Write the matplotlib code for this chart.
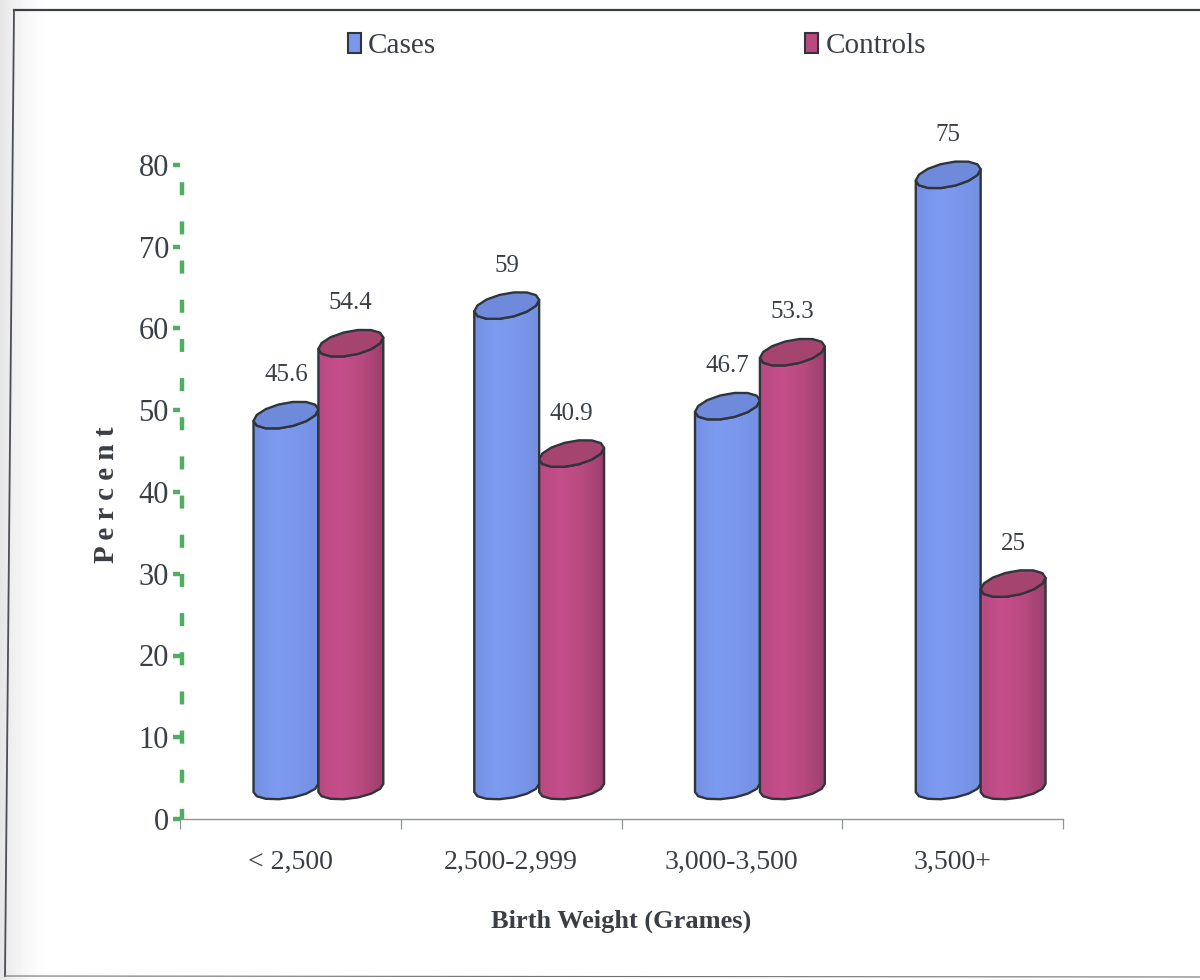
import numpy as np
import matplotlib
matplotlib.use("Agg")
import matplotlib.pyplot as plt
from matplotlib.colors import LinearSegmentedColormap
from matplotlib.patches import Patch, Polygon

plt.rcParams['font.family'] = ['Liberation Serif', 'DejaVu Serif']
plt.rcParams['lines.scale_dashes'] = False

# data
categories = ["< 2,500", "2,500-2,999", "3,000-3,500", "3,500+"]
cases = [45.6, 59, 46.7, 75]
controls = [54.4, 40.9, 53.3, 25]
series_names = ["Cases", "Controls"]
y_ticks = [0, 10, 20, 30, 40, 50, 60, 70, 80]

W, H = 1200, 980
INK = "#3a3f46"
OUTLINE = "#30353c"
GREEN = "#4fae5f"

# the fake 3D look: bars stand on a floor above zero and lean a bit
FLOOR = 3.8
GROUP_SHIFT = 0.127
RADIUS = 0.147
TOP_H = 1.5
BOT_H = 1.3
TILT_TOP = 0.7
TILT_BOT = 0.5

blue_body = LinearSegmentedColormap.from_list("b", ["#7390e4", "#7d9bf0", "#7a97ec", "#7390e2"])
pink_body = LinearSegmentedColormap.from_list("p", ["#b84a82", "#c64e8a", "#b84a80", "#9c3f6e"])
blue_top = "#6f8ada"
pink_top = "#a5446f"

fig = plt.figure(figsize=(W / 100, H / 100), dpi=100, facecolor="white")

# scanned page: grey fading in from the left edge
bg = fig.add_axes([0, 0, 1, 1], zorder=0)
bg.axis("off")
shade = np.ones((1, W))
shade[0, :60] = 1 - 0.10 * np.linspace(1, 0, 60) ** 2
bg.imshow(shade, cmap="gray", vmin=0, vmax=1, aspect="auto", extent=[0, W, H, 0])
bg.plot([14, 1200], [10, 10], color="#3c4045", lw=1.6)
bg.plot([14, 5], [10, 976], color="#4a4e55", lw=1.3)
bg.plot([5, 1200], [976, 977], color="#6f7275", lw=0.8)
bg.set_xlim(0, W)
bg.set_ylim(H, 0)

ax = fig.add_axes([180 / W, 1 - 819 / H, 883 / W, 654 / H], zorder=1)
ax.patch.set_alpha(0)


def ellipse(cx, cy, t, height, tilt):
    return cx + RADIUS * np.cos(t), cy + height * np.sin(t) + tilt * np.cos(t)


def cylinder(cx, value, body_cmap, top_color, z):
    top = FLOOR + value
    t_front = np.linspace(np.pi, 2 * np.pi, 8)
    # lower rim runs left to right, then back along the front of the top rim
    bx, by = ellipse(cx, FLOOR, t_front, BOT_H, TILT_BOT)
    tx, ty = ellipse(cx, top, t_front[::-1], TOP_H, TILT_TOP)
    body = Polygon(np.column_stack([np.r_[bx, tx], np.r_[by, ty]]), closed=True,
                   fc="none", ec=OUTLINE, lw=1.7, zorder=z + 0.2, joinstyle="round")
    fill = np.linspace(0, 1, 64).reshape(1, -1)
    img = ax.imshow(fill, cmap=body_cmap, aspect="auto", zorder=z,
                    extent=[cx - RADIUS, cx + RADIUS, FLOOR - 3, top + 3])
    ax.add_patch(body)
    img.set_clip_path(body)
    t_all = np.linspace(0, 2 * np.pi, 15)[:-1]
    ex, ey = ellipse(cx, top, t_all, TOP_H, TILT_TOP)
    ax.add_patch(Polygon(np.column_stack([ex, ey]), closed=True, fc=top_color, ec=OUTLINE,
                         lw=1.7, zorder=z + 0.3, joinstyle="round", clip_on=False))


for i in range(len(categories)):
    center = i + GROUP_SHIFT
    cylinder(center - RADIUS, cases[i], blue_body, blue_top, 3 + i)
    cylinder(center + RADIUS, controls[i], pink_body, pink_top, 3.5 + i)
    ax.text(center - RADIUS, cases[i] + 8.7, str(cases[i]), ha="center", va="center",
            fontsize=18, color=INK, zorder=10)
    ax.text(center + RADIUS, controls[i] + 8.7, str(controls[i]), ha="center", va="center",
            fontsize=18, color=INK, zorder=10)

ax.set_xlim(-0.5, 3.5)
ax.set_ylim(0, 80)

for side in ["top", "right", "left"]:
    ax.spines[side].set_visible(False)
ax.spines["bottom"].set_color("#8f9496")
ax.spines["bottom"].set_linewidth(1.0)

# category labels sit between the ticks
ax.set_xticks(np.arange(-0.5, 4, 1))
ax.set_xticklabels([])
ax.tick_params(axis="x", which="major", length=7, width=0.9, color="#8f9496")
ax.set_xticks(range(len(categories)), minor=True)
ax.set_xticklabels(categories, minor=True, fontsize=20, color=INK)
ax.tick_params(axis="x", which="minor", length=0, pad=22)

ax.set_yticks(y_ticks)
ax.tick_params(axis="y", length=5, width=3.2, color=GREEN, pad=3, labelsize=22, labelcolor=INK)

# dashed green axis line, drawn from the top down
ax.plot([0.002, 0.002], [80, 0], transform=ax.get_yaxis_transform(), color=GREEN, lw=3.2,
        linestyle=(15.8, (9.4, 18.8)), dash_capstyle="butt", clip_on=False, zorder=2)

ax.text(106 / W, 1 - 495 / H, "P e r c e n t", transform=fig.transFigure, rotation=90,
        ha="center", va="center", fontsize=21, fontweight="bold", color=INK)
ax.text(621 / W, 1 - 921 / H, "Birth Weight (Grames)", transform=fig.transFigure,
        ha="center", va="center", fontsize=19, fontweight="bold", color=INK)

handles = [Patch(fc="#7a97ec", ec=OUTLINE, lw=1.5), Patch(fc="#b84a80", ec=OUTLINE, lw=1.5)]
fig.legend(handles, series_names, ncol=2, loc="center", bbox_to_anchor=(637 / W, 1 - 46 / H),
           frameon=False, prop={"size": 21}, labelcolor=INK, handlelength=0.45, handleheight=0.72,
           handletextpad=0.25, columnspacing=12.65)

fig.savefig("out.png", dpi=100)
